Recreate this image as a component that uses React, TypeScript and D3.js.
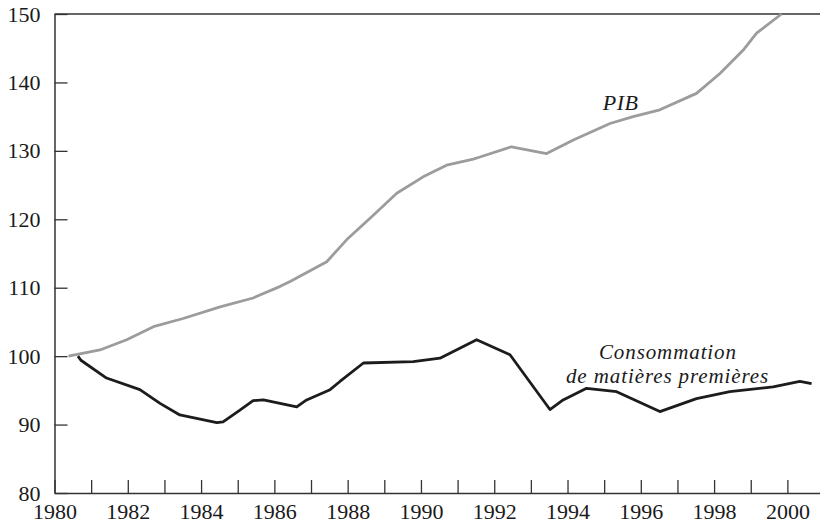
import React, { useEffect, useRef } from 'react';
import * as d3 from 'd3';

// PIB (index 1980 = 100)
const pibYears = [1980.38, 1981.24, 1981.97, 1982.7, 1983.51, 1984.52, 1985.42, 1986.16, 1986.43, 1987.43, 1987.97, 1988.7, 1989.34, 1990.06, 1990.7, 1991.43, 1991.61, 1992.47, 1993.43, 1994.16, 1995.16, 1995.79, 1996.52, 1997.52, 1998.16, 1998.79, 1999.16, 1999.84];
const pibValues = [100.0, 100.9, 102.4, 104.3, 105.5, 107.2, 108.5, 110.2, 110.9, 113.8, 117.0, 120.6, 123.8, 126.2, 127.9, 128.8, 129.1, 130.6, 129.6, 131.6, 134.0, 135.0, 136.0, 138.4, 141.3, 144.7, 147.2, 150.0];

// Consommation de matières premières
const consoYears = [1980.64, 1980.72, 1981.42, 1982.33, 1982.88, 1983.42, 1984.43, 1984.6, 1985.06, 1985.42, 1985.7, 1986.61, 1986.88, 1987.52, 1987.79, 1988.43, 1989.79, 1990.52, 1991.52, 1992.43, 1993.52, 1993.88, 1994.52, 1995.34, 1996.52, 1997.52, 1998.43, 1999.61, 2000.34, 2000.66];
const consoValues = [100.0, 99.4, 96.8, 95.1, 93.1, 91.4, 90.3, 90.4, 92.1, 93.5, 93.6, 92.6, 93.6, 95.1, 96.3, 99.0, 99.2, 99.7, 102.4, 100.2, 92.2, 93.6, 95.3, 94.8, 91.9, 93.8, 94.8, 95.5, 96.3, 96.0];

const xTicks = d3.range(1980, 2001);
const yTicks = [80, 90, 100, 110, 120, 130, 140, 150];

const App = () => {
  const svgRef = useRef<SVGSVGElement>(null);

  useEffect(() => {
    const width = 820;
    const height = 525;
    const font = '"Liberation Serif", "Times New Roman", serif';

    const svg = d3.select(svgRef.current);
    svg.selectAll('*').remove();
    svg.attr('width', width).attr('height', height);

    const x = d3.scaleLinear().domain([1980, 2000.89]).range([54.5, 820]);
    const y = d3.scaleLinear().domain([80, 150]).range([493, 14]);

    const xAxis = svg.append('g')
      .attr('transform', `translate(0,${y(80)})`)
      .call(d3.axisBottom(x)
        .tickValues(xTicks)
        .tickFormat(d => (+d % 2 === 0 ? String(d) : ''))
        .tickSizeInner(-13)
        .tickSizeOuter(0)
        .tickPadding(10));

    const yAxis = svg.append('g')
      .attr('transform', `translate(${x(1980)},0)`)
      .call(d3.axisLeft(y)
        .tickValues(yTicks)
        .tickFormat(d3.format('d'))
        .tickSizeInner(-13)
        .tickSizeOuter(0)
        .tickPadding(14));

    [xAxis, yAxis].forEach(g => {
      g.select('.domain').attr('stroke', '#333').attr('stroke-width', 1.5);
      g.selectAll('.tick line').attr('stroke', '#333').attr('stroke-width', 1.3);
      g.selectAll('.tick text')
        .attr('fill', '#1a1a1a')
        .style('font-family', font)
        .style('font-size', '22px');
    });

    // top border
    svg.append('line')
      .attr('x1', x(1980)).attr('x2', x(2000.89))
      .attr('y1', y(150)).attr('y2', y(150))
      .attr('stroke', '#333').attr('stroke-width', 1.5);

    const line = d3.line<[number, number]>()
      .x(d => x(d[0]))
      .y(d => y(d[1]));

    const pib = pibYears.map((yr, i) => [yr, pibValues[i]] as [number, number]);
    const conso = consoYears.map((yr, i) => [yr, consoValues[i]] as [number, number]);

    svg.append('path')
      .datum(pib)
      .attr('d', line)
      .attr('fill', 'none')
      .attr('stroke', '#9c9c9c')
      .attr('stroke-width', 2.8)
      .attr('stroke-linejoin', 'round');

    svg.append('path')
      .datum(conso)
      .attr('d', line)
      .attr('fill', 'none')
      .attr('stroke', '#1c1c1c')
      .attr('stroke-width', 2.8)
      .attr('stroke-linejoin', 'round');

    const italic = (sel: d3.Selection<SVGTextElement, unknown, null, undefined>, size: number, ls: number) =>
      sel.attr('text-anchor', 'middle')
        .attr('fill', '#1a1a1a')
        .style('font-family', font)
        .style('font-style', 'italic')
        .style('font-size', `${size}px`)
        .style('letter-spacing', `${ls}px`);

    svg.append('text')
      .attr('x', x(1995.45)).attr('y', y(136))
      .call(italic, 22, 0.6)
      .text('PIB');

    // two lines, kept far enough apart that their boxes do not touch
    svg.append('text')
      .attr('x', x(1996.74)).attr('y', y(99.55))
      .call(italic, 21, 0.9)
      .text('Consommation');
    svg.append('text')
      .attr('x', x(1996.73)).attr('y', y(96.05))
      .call(italic, 21, 0.9)
      .text('de matières premières');
  }, []);

  return (
    <div style={{ position: 'absolute', left: 0, top: 0 }}>
      <svg ref={svgRef} style={{ display: 'block', background: '#fff' }}></svg>
    </div>
  );
};

export default App;
